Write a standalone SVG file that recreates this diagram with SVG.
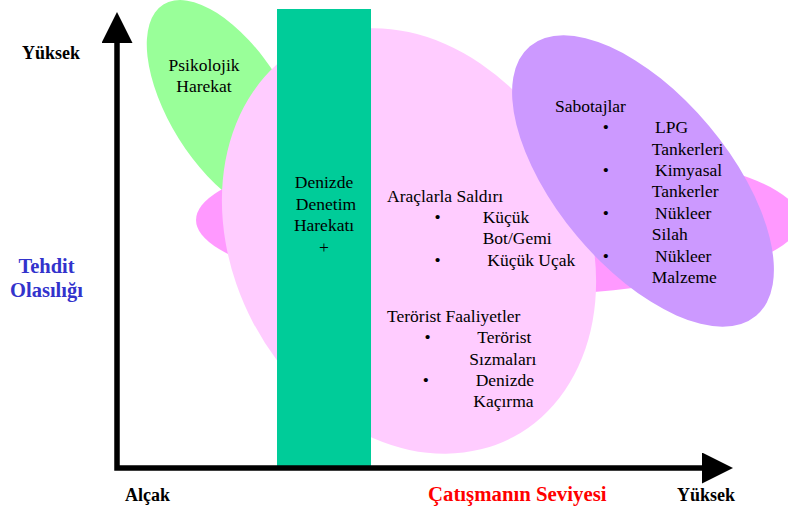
<svg xmlns="http://www.w3.org/2000/svg" width="788" height="510" viewBox="0 0 788 510">
<style>
text{font-family:'Liberation Serif','Times New Roman',serif}
.t{font-size:17.5px;fill:#000}
.m{text-anchor:middle}
.ax{font-weight:bold;font-size:18px;fill:#000}
.ttl{font-weight:bold;font-size:20.5px}
</style>
<defs>
<marker id="arr" markerUnits="userSpaceOnUse" viewBox="0 0 31 31" markerWidth="31" markerHeight="31" refX="0" refY="15.5" orient="auto-start-reverse">
<path d="M0,0 L31,15.5 L0,31 Z" fill="#000"/>
</marker>
</defs>
<rect width="788" height="510" fill="#fff"/>

<g id="psikolojik">
<ellipse cx="228" cy="108" rx="122" ry="58" transform="rotate(58 228 108)" fill="#99FF99"/>
<text class="t m" x="204" y="71">Psikolojik</text>
<text class="t m" x="204" y="92">Harekat</text>
</g>

<g id="genel-alan">
<ellipse cx="498" cy="220" rx="302" ry="76" fill="#FF99FF"/>
</g>

<g id="araclar-terorist">
<ellipse cx="409" cy="241" rx="176" ry="222" transform="rotate(-28 409 241)" fill="#FFCCFF"/>
<text class="t" x="387" y="201.5">Araçlarla Saldırı</text>
<text class="t m" x="437.5" y="223">•</text>
<text class="t" x="482.7" y="223">Küçük</text>
<text class="t" x="482.7" y="244.3">Bot/Gemi</text>
<text class="t m" x="437.5" y="265.6">•</text>
<text class="t" x="487.3" y="265.6">Küçük Uçak</text>
<text class="t" x="387" y="321.7">Terörist Faaliyetler</text>
<text class="t m" x="427.5" y="343.3">•</text>
<text class="t" x="477.3" y="343.3">Terörist</text>
<text class="t" x="469.3" y="364.5">Sızmaları</text>
<text class="t m" x="425.7" y="385.5">•</text>
<text class="t" x="475.7" y="385.5">Denizde</text>
<text class="t" x="473.3" y="406.7">Kaçırma</text>
</g>

<g id="sabotajlar">
<ellipse cx="643" cy="181" rx="176" ry="86" transform="rotate(50 643 181)" fill="#CC99FF"/>
<text class="t" x="555" y="111.7">Sabotajlar</text>
<text class="t m" x="605.7" y="133.1">•</text>
<text class="t" x="655" y="133.1">LPG</text>
<text class="t" x="651.7" y="154.5">Tankerleri</text>
<text class="t m" x="605.7" y="175.9">•</text>
<text class="t" x="655" y="175.9">Kimyasal</text>
<text class="t" x="651.7" y="197.3">Tankerler</text>
<text class="t m" x="605.7" y="218.7">•</text>
<text class="t" x="655" y="218.7">Nükleer</text>
<text class="t" x="651.7" y="240.1">Silah</text>
<text class="t m" x="605.7" y="261.5">•</text>
<text class="t" x="655" y="261.5">Nükleer</text>
<text class="t" x="651.7" y="282.9">Malzeme</text>
</g>

<g id="denetim">
<rect x="277" y="9" width="94" height="458" fill="#00CC99"/>
<text class="t m" x="324" y="188">Denizde</text>
<text class="t m" x="326" y="209.5">Denetim</text>
<text class="t m" x="324" y="231">Harekatı</text>
<text class="t m" x="324" y="252.5">+</text>
</g>

<g id="connectors">
<path d="M117,43 V468 H702" fill="none" stroke="#000" stroke-width="5.5" stroke-linejoin="miter" marker-start="url(#arr)" marker-end="url(#arr)"/>
</g>

<g id="labels">
<text class="ax" x="22" y="59">Yüksek</text>
<text class="ttl m" x="46.5" y="273" fill="#3333CC">Tehdit</text>
<text class="ttl m" x="46.5" y="297" fill="#3333CC">Olasılığı</text>
<text class="ax" x="125" y="500.5">Alçak</text>
<text class="ttl" x="428" y="500.5" fill="#FF0000" style="font-size:20.8px">Çatışmanın Seviyesi</text>
<text class="ax" x="677" y="500.5">Yüksek</text>
</g>
</svg>
